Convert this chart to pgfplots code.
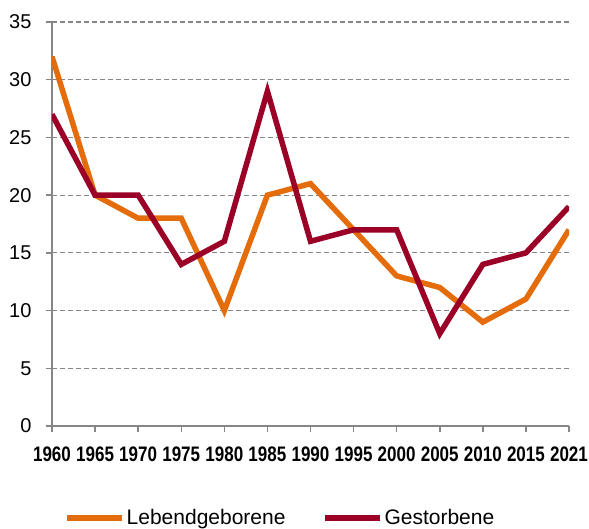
\documentclass[border=0pt]{standalone}
\usepackage{pgfplots}
\pgfplotsset{compat=1.18}
\usepackage{fontspec}
\setmainfont{Liberation Sans}
\newfontfamily\narrowbold[FakeStretch=0.81]{Liberation Sans Bold}
\definecolor{orangeL}{HTML}{E46C0A}
\definecolor{redG}{HTML}{9B0027}
\definecolor{axgray}{HTML}{868686}
\begin{document}
\begin{tikzpicture}
\useasboundingbox (-52bp,-103bp) rectangle (537bp,426bp);
\begin{axis}[
  scale only axis,
  width=517bp, height=404bp,
  xmin=0, xmax=12, ymin=0, ymax=35,
  axis x line*=bottom, axis y line*=left,
  axis line style={axgray, line width=1.5bp, -},
  xtick={0,...,12},
  xticklabels={1960,1965,1970,1975,1980,1985,1990,1995,2000,2005,2010,2015,2021},
  ytick={0,5,...,35},
  tick align=outside,
  major tick length=6bp,
  tick style={axgray, line width=1.5bp},
  ymajorgrids,
  grid style={axgray, line width=1.2bp, dash pattern=on 5bp off 3bp},
  xticklabel style={font=\fontsize{21bp}{23bp}\narrowbold, yshift=-11bp},
  yticklabel style={font=\fontsize{20bp}{22bp}\selectfont, xshift=-11bp},
  /pgf/number format/assume math mode=true,
  legend columns=2,
  legend style={draw=none, fill=none, at={(0.441,-0.228)}, anchor=center,
    font=\fontsize{21bp}{23bp}\selectfont,
    /tikz/every even column/.append style={column sep=34bp},
    inner sep=0pt},
  legend image code/.code={\draw[#1, line width=6bp] (0bp,0bp) -- (55bp,0bp);},
]
\addplot[orangeL, line width=5.5bp] coordinates {
(0,32) (1,20) (2,18) (3,18) (4,10) (5,20) (6,21) (7,17) (8,13) (9,12) (10,9) (11,11) (12,17)};
\addlegendentry{Lebendgeborene}
\addplot[redG, line width=5.5bp] coordinates {
(0,27) (1,20) (2,20) (3,14) (4,16) (5,29) (6,16) (7,17) (8,17) (9,8) (10,14) (11,15) (12,19)};
\addlegendentry{Gestorbene}
\end{axis}
\end{tikzpicture}
\end{document}
